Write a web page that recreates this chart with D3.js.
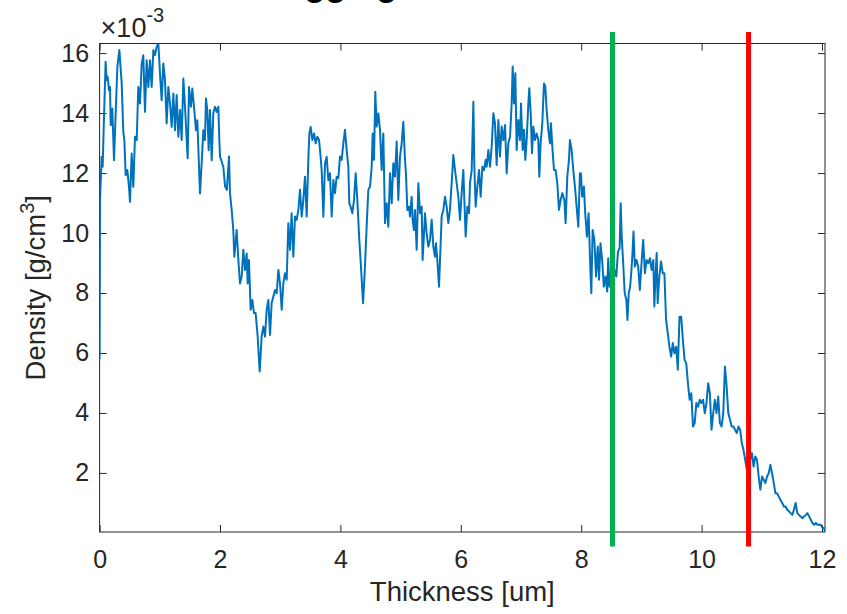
<!DOCTYPE html>
<html>
<head>
<meta charset="utf-8">
<script src="https://cdn.jsdelivr.net/npm/d3@7"></script>
<style>
  html, body { margin: 0; padding: 0; background: #ffffff; }
  svg { display: block; font-family: "Liberation Sans", Arial, Helvetica, sans-serif; }
</style>
</head>
<body>
<svg id="chart" width="847" height="614"></svg>
<script>
// Measured density profile through the film thickness
// thickness in um, density in units of 1e-3 g/cm^3
const thickness = [
  0.000, 0.007, 0.034, 0.051, 0.073, 0.100, 0.117, 0.134, 0.156, 0.173,
  0.184, 0.211, 0.239, 0.295, 0.328, 0.367, 0.394, 0.411, 0.433, 0.461,
  0.488, 0.505, 0.533, 0.560, 0.588, 0.616, 0.643, 0.671, 0.699, 0.726,
  0.754, 0.782, 0.810, 0.837, 0.865, 0.893, 0.920, 0.948, 0.976, 1.003,
  1.031, 1.059, 1.086, 1.114, 1.142, 1.170, 1.197, 1.225, 1.253, 1.280,
  1.308, 1.336, 1.363, 1.391, 1.419, 1.447, 1.463, 1.485, 1.518, 1.540,
  1.568, 1.601, 1.623, 1.668, 1.695, 1.723, 1.750, 1.767, 1.789, 1.812,
  1.834, 1.862, 1.889, 1.917, 1.945, 1.972, 1.989,
  2.000, 2.055, 2.085, 2.113, 2.150, 2.166, 2.194, 2.221, 2.238, 2.277,
  2.305, 2.332, 2.360, 2.388, 2.415, 2.443, 2.459, 2.481, 2.509, 2.537,
  2.565, 2.592, 2.626, 2.659, 2.692, 2.720, 2.748, 2.775, 2.803, 2.831,
  2.858, 2.886, 2.914, 2.942, 2.970, 2.997, 3.025, 3.052, 3.080, 3.108,
  3.135, 3.163, 3.190, 3.218, 3.246, 3.274, 3.301, 3.329, 3.357, 3.384,
  3.412, 3.440, 3.467,
  3.484, 3.506, 3.534, 3.562, 3.589, 3.617, 3.645, 3.662, 3.689, 3.717,
  3.744, 3.772, 3.800,
  3.827, 3.855, 3.883, 3.910, 3.938, 3.966, 3.993, 4.021, 4.049, 4.076,
  4.104, 4.132, 4.148, 4.170, 4.198, 4.226, 4.254, 4.281, 4.314, 4.342,
  4.376, 4.403, 4.436, 4.464, 4.492, 4.520, 4.536, 4.558, 4.580, 4.602,
  4.630, 4.658, 4.685, 4.713, 4.741, 4.769, 4.796, 4.824, 4.852, 4.879,
  4.907, 4.935, 4.962, 4.990, 5.018, 5.045, 5.073, 5.089, 5.112, 5.140,
  5.156, 5.184, 5.200, 5.222, 5.239, 5.267, 5.295, 5.322, 5.350, 5.366,
  5.389, 5.405, 5.433, 5.460, 5.488, 5.516, 5.544, 5.571, 5.588, 5.610,
  5.638, 5.655, 5.682, 5.710, 5.738, 5.765, 5.793, 5.820, 5.848, 5.876,
  5.904, 5.931, 5.959, 5.987, 6.014, 6.042, 6.059, 6.081, 6.109, 6.137,
  6.153, 6.181, 6.209, 6.225, 6.247, 6.275, 6.303, 6.330, 6.358, 6.386,
  6.413, 6.430, 6.458, 6.485, 6.513, 6.541, 6.568, 6.596, 6.624, 6.651,
  6.679, 6.707, 6.735, 6.762, 6.790, 6.818, 6.845, 6.862, 6.884, 6.906,
  6.928, 6.956, 6.984, 7.000, 7.028, 7.050, 7.072, 7.094, 7.122, 7.138,
  7.161, 7.183, 7.205, 7.232, 7.260, 7.288, 7.304, 7.326, 7.354, 7.382,
  7.404, 7.426, 7.454, 7.481, 7.498, 7.520, 7.548, 7.575, 7.603, 7.631,
  7.658, 7.686, 7.720, 7.741, 7.769, 7.797, 7.813, 7.841, 7.869, 7.896,
  7.924, 7.952, 7.979,
  7.995, 8.017, 8.045, 8.067, 8.095, 8.123, 8.151, 8.168, 8.190, 8.219,
  8.247, 8.275, 8.297, 8.320, 8.348, 8.376, 8.404, 8.432, 8.449, 8.471,
  8.499, 8.527, 8.555, 8.583, 8.611, 8.639, 8.656, 8.673, 8.695, 8.723,
  8.751, 8.768, 8.790, 8.813, 8.835, 8.852, 8.869, 8.891, 8.919, 8.947,
  8.974, 9.002, 9.030, 9.058, 9.086, 9.114, 9.142, 9.170, 9.198, 9.215,
  9.237, 9.254, 9.270, 9.298, 9.326, 9.354, 9.382, 9.410, 9.438, 9.466,
  9.494, 9.522, 9.550, 9.578, 9.605, 9.633, 9.661, 9.689, 9.717, 9.745,
  9.773, 9.801, 9.829, 9.857, 9.885, 9.913, 9.941, 9.969, 9.997, 10.025,
  10.053, 10.081, 10.109, 10.137, 10.165, 10.193, 10.220, 10.248, 10.276, 10.304,
  10.332, 10.360, 10.388, 10.416, 10.444, 10.472, 10.500, 10.528, 10.556, 10.584,
  10.612, 10.640, 10.668, 10.696, 10.724, 10.752, 10.780, 10.808, 10.836, 10.864,
  10.892, 10.920, 10.948, 10.976, 11.004, 11.032, 11.060, 11.087, 11.115, 11.143,
  11.171, 11.199, 11.227, 11.255, 11.283, 11.311, 11.339, 11.367, 11.395, 11.423,
  11.450, 11.478, 11.506, 11.534, 11.562, 11.590, 11.618, 11.646, 11.674, 11.702,
  11.730, 11.758, 11.786, 11.814, 11.841, 11.869, 11.897, 11.925, 11.953, 11.981,
  12.009, 12.037, 12.050
];

const density = [
  5.80, 11.10, 12.54, 12.21, 13.87, 15.71, 15.10, 15.21, 14.76, 14.87,
  13.60, 14.15, 12.43, 15.54, 16.10, 14.99, 13.37, 13.10, 11.93, 12.10,
  11.54, 11.04, 12.65, 11.54, 13.21, 13.10, 14.87, 14.32, 15.65, 15.93,
  14.04, 15.76, 14.87, 15.76, 14.87, 16.10, 15.93, 16.21, 16.32, 15.32,
  14.43, 15.65, 15.10, 13.65, 14.87, 14.32, 13.54, 14.65, 13.43, 14.60,
  13.21, 14.10, 13.10, 15.15, 14.21, 13.10, 12.49, 14.87, 14.21, 14.82,
  14.21, 13.43, 13.76, 11.32, 12.32, 13.43, 13.10, 14.49, 14.10, 12.76,
  14.10, 12.43, 13.99, 14.21, 14.04, 14.21, 13.10,
  12.55, 12.21, 11.55, 11.44, 12.55, 11.33, 10.77, 10.10, 9.21, 10.10,
  9.10, 8.32, 8.55, 9.44, 8.77, 9.32, 8.32, 9.10, 7.44, 7.77,
  7.33, 7.33, 6.55, 5.38, 6.55, 6.88, 6.55, 7.44, 7.77, 6.60,
  7.66, 7.88, 8.10, 7.99, 8.77, 8.32, 7.44, 8.32, 8.66, 8.44,
  10.33, 9.44, 10.66, 9.21, 10.55, 10.44, 10.77, 11.44, 10.55, 11.10,
  11.88, 10.55, 12.44,
  13.32, 13.54, 13.10, 13.32, 12.99, 13.21, 13.10, 12.76, 12.10, 10.54,
  12.32, 12.54, 11.76,
  11.99, 10.55, 11.77, 11.33, 11.88, 11.83, 12.55, 12.44, 12.99, 13.44,
  12.77, 12.21, 10.99, 10.88, 10.66, 11.10, 11.99, 11.10, 9.77, 8.88,
  7.66, 8.66, 10.21, 11.44, 11.55, 12.21, 13.32, 12.44, 14.71, 13.55,
  13.99, 13.44, 12.10, 13.32, 10.33, 10.99, 10.21, 11.99, 10.99, 12.33,
  11.88, 13.05, 11.10, 12.55, 12.99, 13.71, 12.44, 11.99, 10.77, 10.88,
  10.55, 11.21, 10.44, 10.10, 10.77, 9.44, 11.66, 10.66, 10.88, 9.10,
  9.99, 10.66, 9.99, 9.55, 9.77, 10.44, 9.55, 9.21, 9.66, 9.10,
  8.21, 9.10, 10.55, 10.77, 11.21, 10.88, 10.33, 10.77, 11.66, 12.60,
  12.10, 11.66, 11.21, 10.44, 11.33, 12.10, 11.10, 9.88, 10.88, 10.66,
  11.66, 12.10, 14.38, 12.21, 10.88, 11.55, 12.10, 11.21, 12.21, 12.10,
  12.44, 12.21, 12.77, 12.21, 12.88, 13.99, 13.66, 12.27, 13.77, 12.55,
  13.55, 13.10, 13.60, 11.99, 12.99, 13.21, 14.32, 15.55, 14.32, 15.33,
  12.77, 13.77, 13.10, 14.32, 12.77, 13.44, 12.44, 13.10, 14.32, 14.83,
  13.99, 12.66, 13.55, 13.10, 13.32, 13.10, 11.88, 12.99, 13.66, 14.99,
  14.88, 14.10, 13.44, 12.99, 13.66, 12.88, 12.10, 12.10, 11.66, 10.77,
  11.10, 11.33, 11.10, 10.33, 11.88, 12.44, 13.10, 12.77, 12.10, 11.55,
  10.88, 10.21, 11.99,
  11.99, 11.21, 11.55, 10.66, 9.88, 10.66, 8.88, 7.99, 10.10, 9.77,
  8.55, 9.55, 8.44, 9.66, 9.10, 8.21, 8.55, 8.05, 9.16, 8.21,
  8.66, 8.21, 8.77, 8.55, 9.38, 9.49, 10.99, 9.88, 9.10, 7.99,
  7.77, 7.10, 7.99, 8.21, 8.77, 9.33, 10.05, 8.88, 9.10, 8.88,
  8.10, 8.99, 9.77, 8.66, 9.10, 8.99, 9.16, 8.77, 9.10, 7.55,
  8.66, 9.33, 7.66, 8.55, 9.05, 8.66, 8.66, 7.10, 6.66, 6.21,
  5.88, 6.33, 5.99, 6.21, 5.44, 7.21, 7.21, 6.44, 5.77, 5.66,
  4.99, 4.44, 4.66, 3.55, 3.66, 4.33, 4.21, 4.44, 4.33, 4.44,
  3.99, 4.33, 4.99, 4.66, 3.44, 3.99, 4.44, 3.99, 4.55, 3.66,
  3.55, 3.99, 5.55, 4.88, 3.99, 3.77, 3.55, 3.55, 3.44, 3.33,
  3.55, 3.44, 2.99, 2.77, 2.44, 2.10, 2.77, 2.44, 2.66, 2.21,
  2.55, 2.44, 1.88, 1.44, 1.88, 1.77, 1.66, 1.88, 1.99, 2.27,
  1.99, 1.66, 1.32, 1.32, 1.21, 1.10, 1.00, 0.88, 0.88, 0.77,
  0.72, 0.66, 0.60, 0.77, 1.00, 0.66, 0.60, 0.55, 0.49, 0.55,
  0.60, 0.66, 0.55, 0.44, 0.33, 0.27, 0.33, 0.27, 0.27, 0.27,
  0.16, 0.16, 0.03
];

// Axis ticks
const xTicks = [0, 2, 4, 6, 8, 10, 12];
const yTicks = [2, 4, 6, 8, 10, 12, 14, 16];
const yExponent = "-3";

// Reference thickness markers (um) and their vertical span in density units
const markerThickness = [8.52, 10.78];
const markerColors = ["#00b050", "#ff0000"];
const markerSpan = [-0.45, 16.7];

// Text
const titleText = "Logging Result";
const xLabelText = "Thickness [um]";
const yLabelMain = "Density [g/cm";
const yLabelSup = "3";
const yLabelEnd = "]";

// Layout
const plot = { left: 99.6, right: 825, top: 43.5, bottom: 532 };
const ink = "#262626";
const tickFont = 25;
const labelFont = 27.5;

const svg = d3.select("#chart");

const x = d3.scaleLinear()
  .domain(d3.extent(thickness))
  .range([plot.left, plot.right]);

const y = d3.scaleLinear()
  .domain(d3.extent(density))
  .range([plot.bottom, plot.top]);

const points = thickness.map((t, i) => ({ t, v: density[i] }));

// Clip for data
svg.append("defs").append("clipPath").attr("id", "plot-clip")
  .append("rect")
  .attr("x", plot.left).attr("y", plot.top)
  .attr("width", plot.right - plot.left)
  .attr("height", plot.bottom - plot.top);

// Axes (ticks point inward on all four sides)
function styleAxis(g) {
  g.select(".domain").remove();
  g.selectAll(".tick line").attr("stroke", ink).attr("stroke-width", 1);
  g.selectAll(".tick text")
    .attr("fill", ink)
    .style("font-size", tickFont + "px")
    .style("font-family", "'Liberation Sans', Arial, Helvetica, sans-serif");
}

svg.append("g")
  .attr("transform", `translate(0,${plot.bottom})`)
  .call(d3.axisBottom(x).tickValues(xTicks).tickFormat(d3.format("d"))
    .tickSizeInner(-7).tickSizeOuter(0).tickPadding(18))
  .call(styleAxis);

svg.append("g")
  .attr("transform", `translate(0,${plot.top})`)
  .call(d3.axisTop(x).tickValues(xTicks).tickFormat("")
    .tickSizeInner(-7).tickSizeOuter(0))
  .call(styleAxis);

svg.append("g")
  .attr("transform", `translate(${plot.left},0)`)
  .call(d3.axisLeft(y).tickValues(yTicks).tickFormat(d3.format("d"))
    .tickSizeInner(-7).tickSizeOuter(0).tickPadding(10.5))
  .call(styleAxis);

svg.append("g")
  .attr("transform", `translate(${plot.right},0)`)
  .call(d3.axisRight(y).tickValues(yTicks).tickFormat("")
    .tickSizeInner(-7).tickSizeOuter(0))
  .call(styleAxis);

// Axes box
svg.append("rect")
  .attr("x", plot.left).attr("y", plot.top)
  .attr("width", plot.right - plot.left)
  .attr("height", plot.bottom - plot.top)
  .attr("fill", "none")
  .attr("stroke", ink)
  .attr("stroke-width", 1);

// Density trace
svg.append("path")
  .datum(points)
  .attr("clip-path", "url(#plot-clip)")
  .attr("fill", "none")
  .attr("stroke", "#0072bd")
  .attr("stroke-width", 2)
  .attr("stroke-linejoin", "round")
  .attr("d", d3.line().x(d => x(d.t)).y(d => y(d.v)));

// Thickness markers
svg.append("g").selectAll("line")
  .data(markerThickness)
  .join("line")
  .attr("x1", d => x(d)).attr("x2", d => x(d))
  .attr("y1", y(markerSpan[0])).attr("y2", y(markerSpan[1]))
  .attr("stroke", (d, i) => markerColors[i])
  .attr("stroke-width", 5);

// Exponent label for the y axis
const expo = svg.append("text")
  .attr("x", plot.left + 1)
  .attr("y", 36.5)
  .attr("fill", ink)
  .style("font-size", "27px");
expo.append("tspan").text("\u00d710");
expo.append("tspan").attr("dy", -15).style("font-size", "20px").text(yExponent);

// Axis labels
svg.append("text")
  .attr("x", (plot.left + plot.right) / 2)
  .attr("y", 601)
  .attr("text-anchor", "middle")
  .attr("fill", ink)
  .style("font-size", labelFont + "px")
  .text(xLabelText);

const yl = svg.append("text")
  .attr("transform", `translate(45,${(plot.top + plot.bottom) / 2}) rotate(-90)`)
  .attr("text-anchor", "middle")
  .attr("fill", ink)
  .style("font-size", labelFont + "px");
yl.append("tspan").text(yLabelMain);
yl.append("tspan").attr("dy", -11).style("font-size", "20px").text(yLabelSup);
yl.append("tspan").attr("dy", 11).text(yLabelEnd);

// Title (sits above the visible area)
svg.append("text")
  .attr("x", 263)
  .attr("y", -4)
  .attr("fill", "#000000")
  .style("font-size", "34px")
  .style("font-weight", "bold")
  .text(titleText);
</script>
</body>
</html>
